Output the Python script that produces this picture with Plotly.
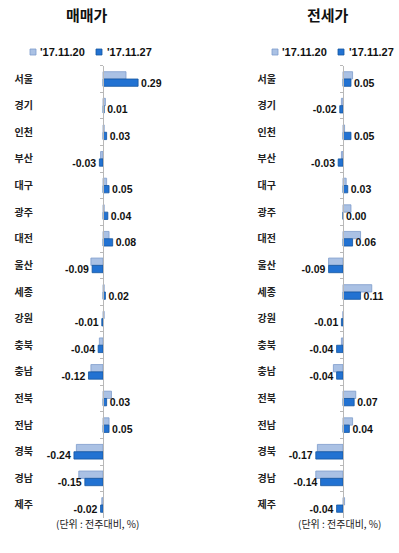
import plotly.graph_objects as go

regions = ["서울", "경기", "인천", "부산", "대구", "광주", "대전", "울산", "세종",
           "강원", "충북", "충남", "전북", "전남", "경북", "경남", "제주"]
series_names = ["'17.11.20", "'17.11.27"]

sale_prev = [0.19, 0.02, 0.01, -0.02, 0.03, 0.01, 0.05, -0.10, 0.01,
             0.01, -0.03, -0.10, 0.07, 0.05, -0.22, -0.20, -0.01]
sale_curr = [0.29, 0.01, 0.03, -0.03, 0.05, 0.04, 0.08, -0.09, 0.02,
             -0.01, -0.04, -0.12, 0.03, 0.05, -0.24, -0.15, -0.02]

jeonse_prev = [0.06, -0.01, 0.01, -0.01, 0.02, 0.05, 0.11, -0.09, 0.18,
               0.00, -0.01, -0.06, 0.08, 0.06, -0.16, -0.17, 0.01]
jeonse_curr = [0.05, -0.02, 0.05, -0.03, 0.03, 0.00, 0.06, -0.09, 0.11,
               -0.01, -0.04, -0.04, 0.07, 0.04, -0.17, -0.14, -0.04]

titles = ["매매가", "전세가"]
unit_note = "(단위 : 전주대비, %)"

W, H = 399, 553
FONT = "Noto Sans CJK KR"
NUMFONT = "Liberation Sans"
prev_fill, prev_line = "#aac1e4", "#7e9ccb"
curr_fill, curr_line = "#2272d2", "#14559f"

left_dom = [38 / W, 168 / W]
right_dom = [287 / W, 394 / W]
left_rng = [-0.537, 0.537]
right_rng = [-0.35, 0.319]
y_dom = [1 - 518.3 / H, 1 - 65.7 / H]


def zero_pos(dom, rng):
    return dom[0] + (0 - rng[0]) / (rng[1] - rng[0]) * (dom[1] - dom[0])


fig = go.Figure()

panels = [
    (sale_prev, sale_curr, "x", "y"),
    (jeonse_prev, jeonse_curr, "x2", "y2"),
]
for prev, curr, xa, ya in panels:
    fig.add_trace(go.Bar(
        x=prev, y=regions, orientation="h", name=series_names[0],
        xaxis=xa, yaxis=ya, showlegend=False,
        marker=dict(color=prev_fill, line=dict(color=prev_line, width=0.8)),
        hoverinfo="x+y",
    ))
    fig.add_trace(go.Bar(
        x=curr, y=regions, orientation="h", name=series_names[1],
        xaxis=xa, yaxis=ya, showlegend=False,
        marker=dict(color=curr_fill, line=dict(color=curr_line, width=0.8)),
        text=[f"{v:.2f}" for v in curr], textposition="outside",
        textangle=0, constraintext="none", cliponaxis=False,
        textfont=dict(family=NUMFONT, size=10.5, color="#111111", weight="bold"),
        hoverinfo="x+y",
    ))

xcommon = dict(showgrid=False, zeroline=False, showticklabels=False,
               showline=False, ticks="", fixedrange=True, automargin=False)
ycommon = dict(autorange="reversed", showgrid=False, zeroline=False,
               showline=True, linecolor="#b8b8b8", linewidth=1,
               ticks="outside", ticklen=3, tickcolor="#b8b8b8",
               tickson="boundaries", anchor="free", domain=y_dom,
               automargin=False,
               tickfont=dict(family=FONT, size=10, color="#222222", weight="bold"),
               fixedrange=True)

# Manual legends (icon squares + labels) for each panel
legend_items = [
    # (icon x-left px, text x-left px, series index)
    (30, 38, 0), (96, 105, 1),
    (272, 280, 0), (338, 347, 1),
]
fills = [(prev_fill, prev_line), (curr_fill, curr_line)]
shapes, annotations = [], []
LEG_Y = 52
for ix, tx, si in legend_items:
    f, l = fills[si]
    shapes.append(dict(type="rect", xref="paper", yref="paper",
                       x0=ix / W, x1=(ix + 6) / W,
                       y0=1 - (LEG_Y + 3) / H, y1=1 - (LEG_Y - 3) / H,
                       fillcolor=f, line=dict(color=l, width=0.8)))
    annotations.append(dict(text=series_names[si], x=tx / W, y=1 - LEG_Y / H,
                            xref="paper", yref="paper", xanchor="left", yanchor="middle",
                            showarrow=False,
                            font=dict(family=NUMFONT, size=11, color="#111111", weight="bold")))

annotations += [
    dict(text=titles[0], x=87 / W, y=1 - 15 / H, xref="paper", yref="paper",
         xanchor="center", yanchor="middle",
         showarrow=False, font=dict(family=FONT, size=15, weight="bold", color="#111111")),
    dict(text=titles[1], x=328 / W, y=1 - 15 / H, xref="paper", yref="paper",
         xanchor="center", yanchor="middle",
         showarrow=False, font=dict(family=FONT, size=15, weight="bold", color="#111111")),
    dict(text=unit_note, x=97 / W, y=1 - 523 / H, xref="paper", yref="paper",
         xanchor="center", yanchor="middle",
         showarrow=False, font=dict(family=FONT, size=10, color="#222222")),
    dict(text=unit_note, x=339 / W, y=1 - 523 / H, xref="paper", yref="paper",
         xanchor="center", yanchor="middle",
         showarrow=False, font=dict(family=FONT, size=10, color="#222222")),
]

fig.update_layout(
    width=W, height=H,
    margin=dict(l=0, r=0, t=0, b=0, autoexpand=False),
    paper_bgcolor="white", plot_bgcolor="rgba(0,0,0,0)",
    barmode="group", bargap=0.45, bargroupgap=0.0,
    font=dict(family=FONT, color="#111111"),
    showlegend=False,
    xaxis=dict(domain=left_dom, range=left_rng, anchor="y", **xcommon),
    xaxis2=dict(domain=right_dom, range=right_rng, anchor="y2", **xcommon),
    yaxis=dict(position=zero_pos(left_dom, left_rng), ticklabelstandoff=68, **ycommon),
    yaxis2=dict(position=zero_pos(right_dom, right_rng), ticklabelstandoff=65, **ycommon),
    shapes=shapes,
    annotations=annotations,
)

fig.write_html("out.html")
